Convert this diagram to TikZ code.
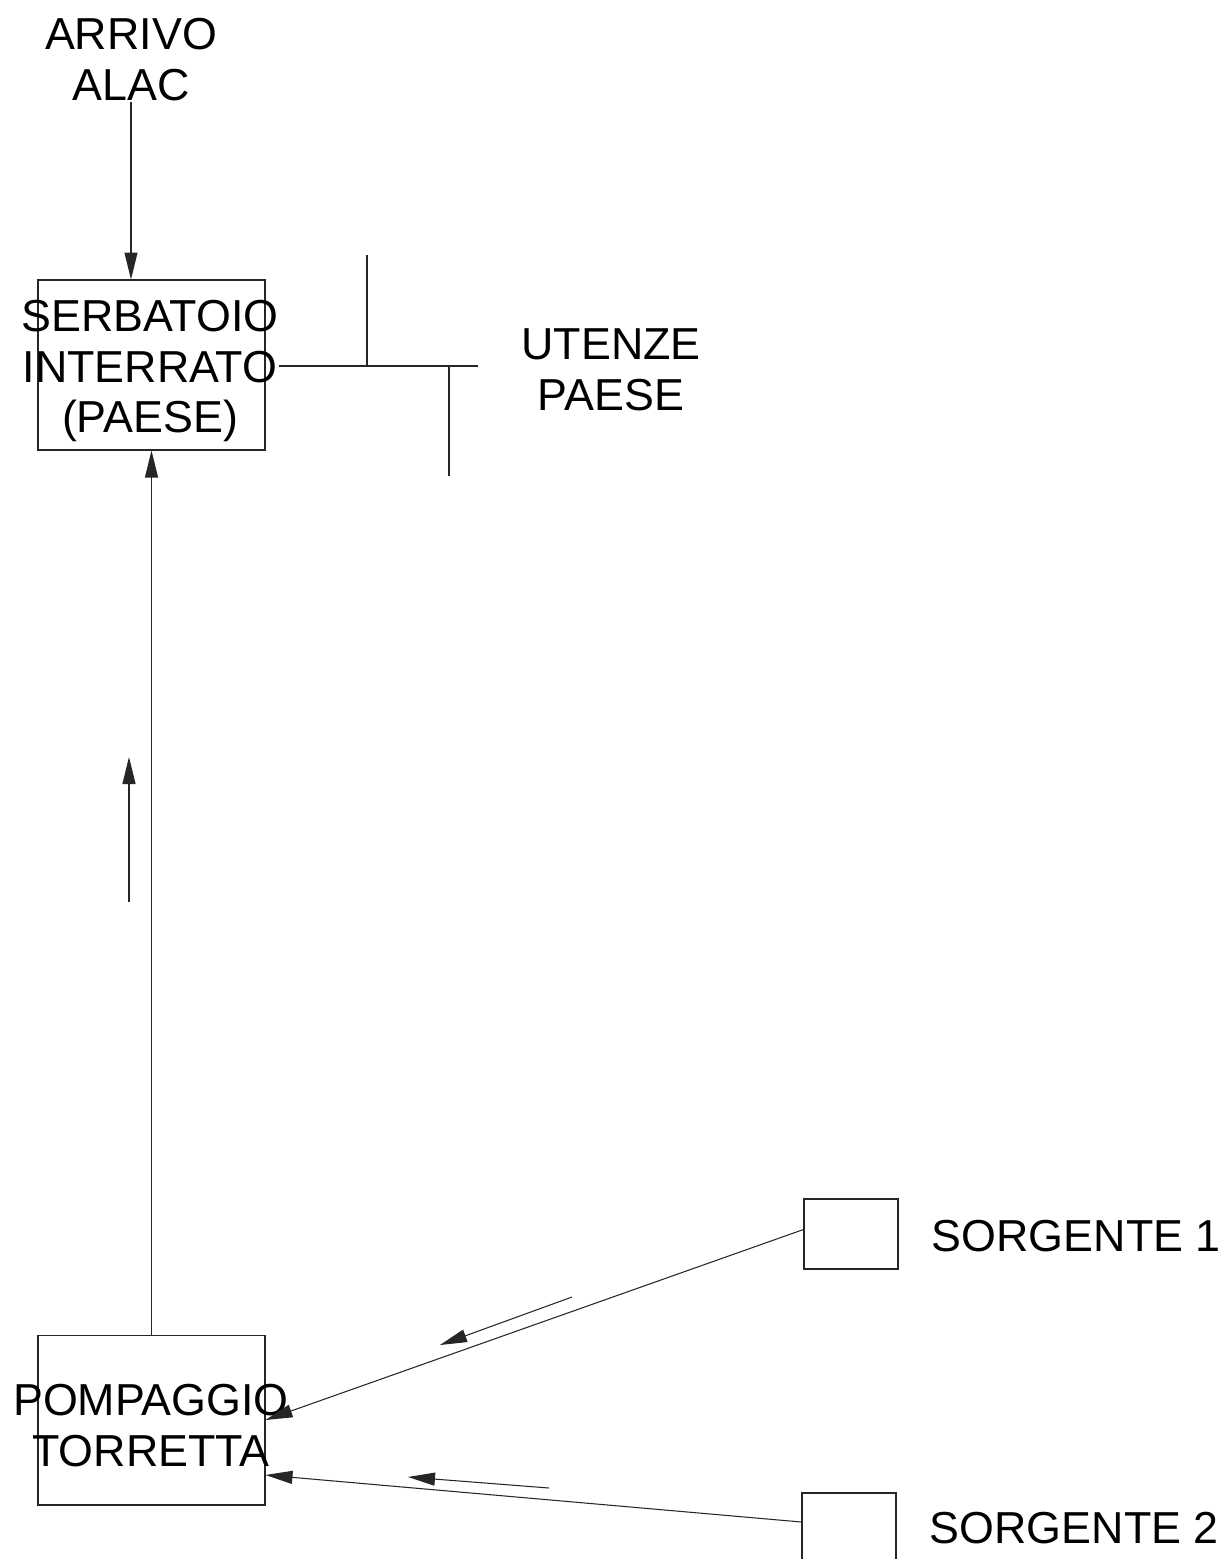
\documentclass[tikz,border=0pt]{standalone}
\usepackage{fontspec}
\setmainfont{Liberation Sans}
\usetikzlibrary{arrows.meta,positioning}

\begin{document}
\begin{tikzpicture}[
  x=0.02cm, y=-0.02cm,
  >={Triangle[length=0.54cm,width=0.26cm]},
  pipe/.style = {draw=black!85, line width=0.6pt},
  tank/.style = {draw=black!85, line width=0.6pt, inner sep=0pt,
                 minimum width=4.54cm, minimum height=3.4cm},
  well/.style = {draw=black!85, line width=0.6pt, inner sep=0pt,
                 minimum width=1.88cm, minimum height=1.4cm},
  lbl/.style  = {font=\fontsize{25.5pt}{29pt}\selectfont, align=center, inner sep=0pt}
]
\useasboundingbox (0,0) rectangle (1226,1559);

% serbatoio e arrivo
\node[lbl] (arrivo) at (131, 60) {ARRIVO\\ALAC};
\node[tank] (serb) at (151.5, 365) {};
\node[lbl] (serbtxt) at (150, 371) {SERBATOIO\\INTERRATO\\(PAESE)};
\draw[pipe, ->] (arrivo.south) -- (arrivo.south |- serb.north);

% utenze
\node[lbl] (utenze) at (611, 370) {UTENZE\\PAESE};
\coordinate (teeA) at (367, 366);
\coordinate (teeB) at (449, 366);
\coordinate (distEnd) at (478, 366);
\draw[pipe] (serbtxt.east |- teeA) -- (distEnd);
\draw[pipe] (teeA) -- ++(0, -111);
\draw[pipe] (teeB) -- ++(0, 110);

% pompaggio
\node[tank] (pomp) at (151.5, 1420) {};
\node[lbl] (pomptxt) at (151, 1426) {POMPAGGIO\\TORRETTA};
\draw[pipe, ->] (pomp.north -| serb.south) -- (serb.south);
\coordinate (flowA) at (129, 902);
\coordinate (flowB) at (129, 757);
\draw[pipe, ->] (flowA) -- (flowB);

% sorgenti
\node[well] (sorg1) at (851, 1234) {};
\node[lbl, right=0.66cm of sorg1, yshift=-0.04cm] (sorg1txt) {SORGENTE 1};
\node[well] (sorg2) at (849, 1528) {};
\node[lbl, right=0.66cm of sorg2] (sorg2txt) {SORGENTE 2};
\draw[pipe, ->] ([yshift=0.09cm]sorg1.west) -- (pomp.east);
\draw[pipe, ->] ([yshift=0.12cm]sorg2.west) -- ([yshift=-1.1cm]pomp.east);
\coordinate (flowC) at (572, 1297);
\coordinate (flowD) at (440, 1345);
\draw[pipe, ->] (flowC) -- (flowD);
\coordinate (flowE) at (549, 1488);
\coordinate (flowF) at (408, 1477);
\draw[pipe, ->] (flowE) -- (flowF);
\end{tikzpicture}
\end{document}
